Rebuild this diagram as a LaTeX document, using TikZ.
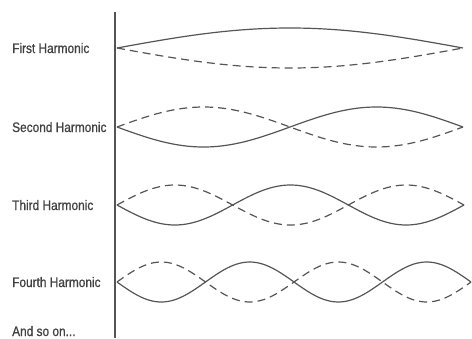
\documentclass[tikz,border=0pt]{standalone}
\usepackage{fontspec}
\newfontfamily\labelfont{Liberation Sans}[FakeStretch=0.86, FakeBold=0.8]
\usepackage{tikz}
\usetikzlibrary{positioning}
\usepackage{xcolor}
\definecolor{stringgray}{RGB}{85,85,85}
\definecolor{labelgray}{RGB}{65,65,65}

\begin{document}
\begin{tikzpicture}[x=1pt, y=-1pt,
    lbl/.style={anchor=base west, inner sep=0pt, text=labelgray, font=\labelfont\fontsize{13.8}{16}\selectfont},
    wave/.style={draw=stringgray, line width=1.2pt},
    dwave/.style={draw=stringgray, line width=1.2pt, dash pattern=on 8pt off 5pt}
]
\useasboundingbox (0,0) rectangle (472,338);

% fixed end of the strings
\coordinate (wallTop) at (115,12);
\coordinate (wallBot) at (115,338);
\draw[stringgray, line width=1.5pt] (wallTop) -- (wallBot);

\foreach \i/\y/\lab in {a/53/First Harmonic, b/132/Second Harmonic, c/210/Third Harmonic, d/287/Fourth Harmonic} {
    \node[lbl] (Lbl\i) at (12,\y) {\lab};
}
\node[lbl] (Lble) at (12,336) {And so on...};

% string and its mirror image for each harmonic
\foreach \n/\c/\len/\s in {1/48/346/-1, 2/127/346/1, 3/205/347/1, 4/282/354/1} {
    \draw[wave] plot[domain=0:\len, samples=120, smooth] ({117+\x},{\c+\s*20*sin(180*\n/\len*\x)});
    \draw[dwave] plot[domain=0:\len, samples=120, smooth] ({117+\x},{\c-\s*20*sin(180*\n/\len*\x)});
}
\end{tikzpicture}
\end{document}
